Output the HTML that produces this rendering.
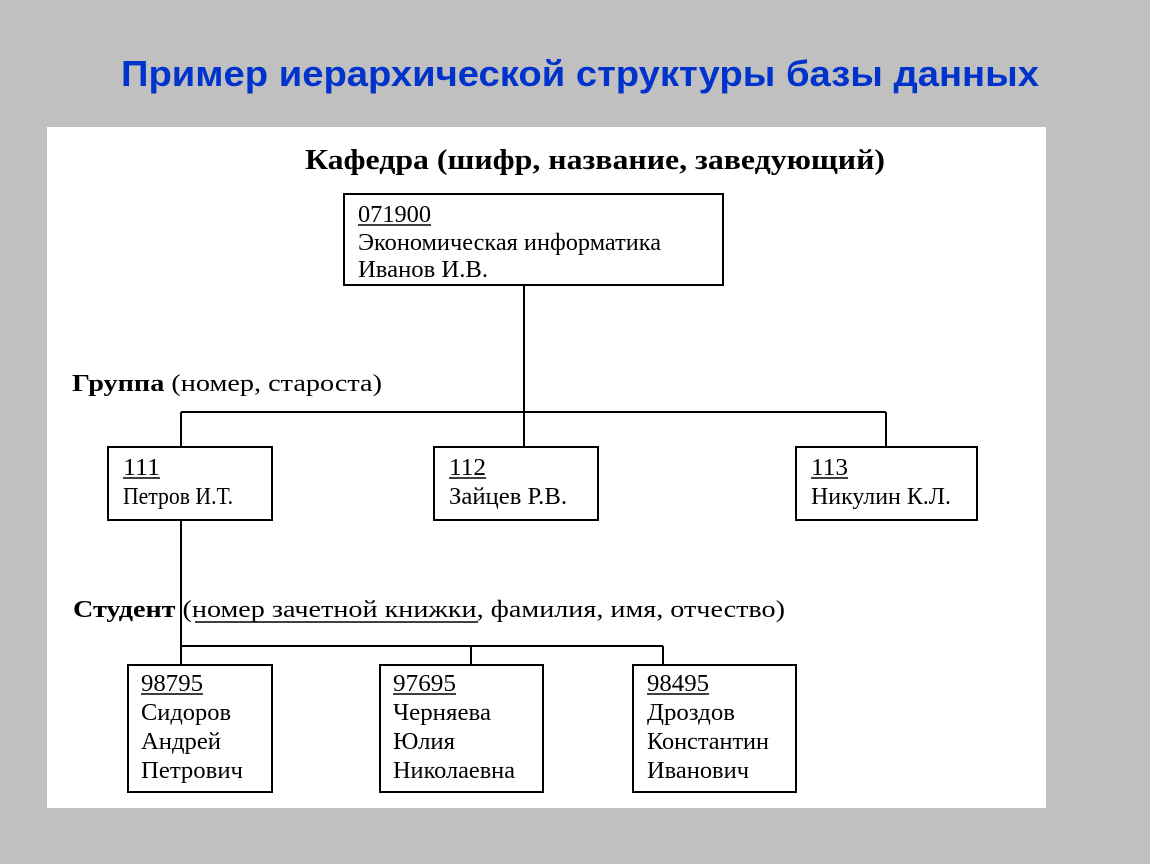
<!DOCTYPE html>
<html><head><meta charset="utf-8"><style>
html,body{margin:0;padding:0;background:#c0c0c0;}
svg{display:block}
</style></head><body>
<svg width="1150" height="864" viewBox="0 0 1150 864" xmlns="http://www.w3.org/2000/svg">
<rect width="1150" height="864" fill="#c0c0c0"/>
<text x="121" y="86" font-family="Liberation Sans, sans-serif" font-weight="bold" font-size="36" fill="#0033cc" textLength="918" lengthAdjust="spacingAndGlyphs">Пример иерархической структуры базы данных</text>
<rect x="47" y="127" width="999" height="681" fill="#ffffff"/>
<g font-family="Liberation Serif, serif" fill="#000">
<text x="305" y="169" font-size="29" font-weight="bold" textLength="580" lengthAdjust="spacingAndGlyphs">Кафедра (шифр, название, заведующий)</text>
</g>
<g stroke="#000" stroke-width="2" fill="none">
<rect x="344" y="194" width="379" height="91"/>
<line x1="524" y1="285" x2="524" y2="446"/>
<line x1="181" y1="412" x2="886" y2="412"/>
<line x1="181" y1="412" x2="181" y2="446"/>
<line x1="886" y1="412" x2="886" y2="446"/>
<rect x="108" y="447" width="164" height="73"/>
<rect x="434" y="447" width="164" height="73"/>
<rect x="796" y="447" width="181" height="73"/>
<line x1="181" y1="520" x2="181" y2="664"/>
<line x1="181" y1="646" x2="663" y2="646"/>
<line x1="471" y1="646" x2="471" y2="664"/>
<line x1="663" y1="646" x2="663" y2="664"/>
<rect x="128" y="665" width="144" height="127"/>
<rect x="380" y="665" width="163" height="127"/>
<rect x="633" y="665" width="163" height="127"/>
</g>
<g stroke="#000" stroke-width="1.5">
<line x1="358" y1="225" x2="431" y2="225"/>
<line x1="123" y1="478" x2="160" y2="478"/>
<line x1="449" y1="478" x2="486" y2="478"/>
<line x1="811" y1="478" x2="848" y2="478"/>
<line x1="195" y1="622" x2="478" y2="622"/>
<line x1="141" y1="694" x2="203" y2="694"/>
<line x1="393" y1="694" x2="456" y2="694"/>
<line x1="647" y1="694" x2="709" y2="694"/>
</g>
<g font-family="Liberation Serif, serif" fill="#000" font-size="24">
<text x="358" y="222" textLength="73" lengthAdjust="spacingAndGlyphs">071900</text>
<text x="358" y="250" textLength="303" lengthAdjust="spacingAndGlyphs">Экономическая информатика</text>
<text x="358" y="277" textLength="130" lengthAdjust="spacingAndGlyphs">Иванов И.В.</text>
<text x="72" y="391" textLength="310" lengthAdjust="spacingAndGlyphs"><tspan font-weight="bold">Группа</tspan> (номер, староста)</text>
<text x="123" y="475" textLength="37" lengthAdjust="spacingAndGlyphs">111</text>
<text x="123" y="504" textLength="110" lengthAdjust="spacingAndGlyphs">Петров И.Т.</text>
<text x="449" y="475" textLength="37" lengthAdjust="spacingAndGlyphs">112</text>
<text x="449" y="504" textLength="118" lengthAdjust="spacingAndGlyphs">Зайцев Р.В.</text>
<text x="811" y="475" textLength="37" lengthAdjust="spacingAndGlyphs">113</text>
<text x="811" y="504" textLength="140" lengthAdjust="spacingAndGlyphs">Никулин К.Л.</text>
<text x="73" y="617" textLength="712" lengthAdjust="spacingAndGlyphs"><tspan font-weight="bold">Студент</tspan> (номер зачетной книжки, фамилия, имя, отчество)</text>
<text x="141" y="691" textLength="62" lengthAdjust="spacingAndGlyphs">98795</text>
<text x="141" y="720" textLength="90" lengthAdjust="spacingAndGlyphs">Сидоров</text>
<text x="141" y="749" textLength="80" lengthAdjust="spacingAndGlyphs">Андрей</text>
<text x="141" y="778" textLength="102" lengthAdjust="spacingAndGlyphs">Петрович</text>
<text x="393" y="691" textLength="63" lengthAdjust="spacingAndGlyphs">97695</text>
<text x="393" y="720" textLength="98" lengthAdjust="spacingAndGlyphs">Черняева</text>
<text x="393" y="749" textLength="62" lengthAdjust="spacingAndGlyphs">Юлия</text>
<text x="393" y="778" textLength="122" lengthAdjust="spacingAndGlyphs">Николаевна</text>
<text x="647" y="691" textLength="62" lengthAdjust="spacingAndGlyphs">98495</text>
<text x="647" y="720" textLength="88" lengthAdjust="spacingAndGlyphs">Дроздов</text>
<text x="647" y="749" textLength="122" lengthAdjust="spacingAndGlyphs">Константин</text>
<text x="647" y="778" textLength="102" lengthAdjust="spacingAndGlyphs">Иванович</text>
</g>
</svg>
</body></html>
